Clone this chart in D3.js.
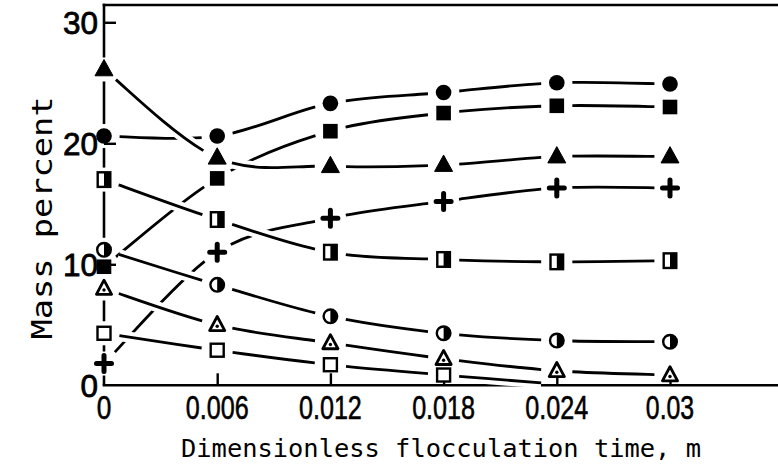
<!DOCTYPE html>
<html><head><meta charset="utf-8">
<script src="https://cdn.jsdelivr.net/npm/d3@7"></script>
<style>body{margin:0;background:#fff} svg{display:block}</style>
</head><body><svg id="c" width="778" height="471"></svg>
<script>
// ---------- data ----------
const xValues = [0, 0.006, 0.012, 0.018, 0.024, 0.03];
const xTickLabels = ["0", "0.006", "0.012", "0.018", "0.024", "0.03"];
const yTickValues = [0, 10, 20, 30];
const filledSquare   = [9.8, 17.1, 21.0, 22.5, 23.1, 23.0];
const plusSeries     = [1.8, 11.0, 13.8, 15.2, 16.3, 16.3];
const filledCircle   = [20.6, 20.6, 23.3, 24.2, 25.0, 24.9];
const filledTriangle = [26.1, 18.8, 18.1, 18.2, 18.9, 18.9];
const halfSquare     = [17.0, 13.7, 11.0, 10.4, 10.2, 10.3];
const halfCircle     = [11.2, 8.3, 5.7, 4.3, 3.7, 3.6];
const openTriangle   = [8.0, 5.0, 3.5, 2.2, 1.2, 0.85];
const openSquare     = [4.3, 2.9, 1.7, 0.85, 0.1, null];
const xTitle = "Dimensionless flocculation time, m";
const yTitle = "Mass percent";

// drawing order: lines that are broken at crossings are drawn first
const series = [
  {values: filledSquare, marker: "fsquare"},
  {values: plusSeries, marker: "plus"},
  {values: filledCircle, marker: "fcircle"},
  {values: filledTriangle, marker: "ftriangle"},
  {values: halfSquare, marker: "hsquare"},
  {values: halfCircle, marker: "hcircle"},
  {values: openTriangle, marker: "otriangle"},
  {values: openSquare, marker: "osquare"}
];

// ---------- layout ----------
const W = 778, H = 471;
const svg = d3.select("#c");
const x = d3.scaleLinear().domain([0, 0.03]).range([104, 670]);
const y = d3.scaleLinear().domain([0, 30]).range([385.3, 22.3]);
const frameTop = 5;
const ink = "#000";
const lineGap = 15.5, axisGap = 12;

// frame: top line and x-axis line
svg.append("line").attr("x1", x(0) - 1.3).attr("x2", W).attr("y1", frameTop).attr("y2", frameTop)
  .attr("stroke", ink).attr("stroke-width", 2.6);
svg.append("line").attr("x1", x(0) - 1.3).attr("x2", W).attr("y1", y(0)).attr("y2", y(0))
  .attr("stroke", ink).attr("stroke-width", 2.6);

// y-axis line, broken where markers sit on it
const axisStops = series.filter(s => s.values[0] != null).map(s => y(s.values[0])).sort((a, b) => a - b);
const axisPieces = [];
let cur = frameTop - 1.3;
axisStops.forEach(p => {
  if (p - axisGap > cur) axisPieces.push([cur, p - axisGap]);
  cur = Math.max(cur, p + axisGap);
});
if (cur < y(0)) axisPieces.push([cur, y(0)]);
svg.append("g").selectAll("line").data(axisPieces).join("line")
  .attr("x1", x(0)).attr("x2", x(0)).attr("y1", d => d[0]).attr("y2", d => d[1])
  .attr("stroke", ink).attr("stroke-width", 2.6);

// x axis ticks + labels
const xAxis = d3.axisBottom(x).tickValues(xValues.slice(1)).tickSize(-12).tickSizeOuter(0).tickFormat(() => "");
const gx = svg.append("g").attr("transform", `translate(0,${y(0)})`).call(xAxis);
gx.select(".domain").remove();
gx.selectAll(".tick line").attr("stroke", ink).attr("stroke-width", 2.4);
const digitW = 14.6, dotW = 4.5;
svg.append("g").selectAll("text").data(xValues).join("text")
  .attr("x", (d) => x(d))
  .attr("y", 419)
  .attr("text-anchor", "middle")
  .attr("font-family", "'Liberation Sans Narrow', 'Liberation Sans', Arial, sans-serif")
  .attr("font-size", 34)
  .attr("fill", ink).attr("stroke", ink).attr("stroke-width", 0.6)
  .attr("textLength", (d, i) => {
    const t = xTickLabels[i];
    const nd = t.replace(/\./g, "").length, np = t.length - nd;
    return nd * digitW + np * dotW;
  })
  .attr("lengthAdjust", "spacingAndGlyphs")
  .text((d, i) => xTickLabels[i]);

// y axis ticks + labels
const yAxis = d3.axisLeft(y).tickValues(yTickValues.filter(v => v > 0)).tickSize(-12).tickSizeOuter(0).tickFormat(() => "");
const gy = svg.append("g").attr("transform", `translate(${x(0)},0)`).call(yAxis);
gy.select(".domain").remove();
gy.selectAll(".tick line").attr("stroke", ink).attr("stroke-width", 2.4);
svg.append("g").selectAll("text").data(yTickValues).join("text")
  .attr("x", x(0) - 6)
  .attr("y", d => y(d) + 12)
  .attr("text-anchor", "end")
  .attr("font-family", "'Liberation Sans', Arial, sans-serif")
  .attr("font-size", 32)
  .attr("fill", ink).attr("stroke", ink).attr("stroke-width", 0.8)
  .attr("textLength", d => String(d).length * 17.5)
  .attr("lengthAdjust", "spacingAndGlyphs")
  .text(d => d);

// titles
svg.append("text").attr("x", 441).attr("y", 457)
  .attr("text-anchor", "middle")
  .attr("font-family", "'DejaVu Sans Mono', 'Liberation Mono', monospace")
  .attr("font-size", 25).attr("fill", ink)
  .attr("textLength", 520).attr("lengthAdjust", "spacingAndGlyphs")
  .text(xTitle);
svg.append("text").attr("transform", "translate(52,218) rotate(-90)")
  .attr("text-anchor", "middle")
  .attr("font-family", "'DejaVu Sans Mono', 'Liberation Mono', monospace")
  .attr("font-size", 29).attr("fill", ink)
  .attr("textLength", 243).attr("lengthAdjust", "spacingAndGlyphs")
  .text(yTitle);

// ---------- lines: Catmull-Rom segments, trimmed near every marker ----------
function bez(c, t) {
  const u = 1 - t;
  return [
    u*u*u*c[0][0] + 3*u*u*t*c[1][0] + 3*u*t*t*c[2][0] + t*t*t*c[3][0],
    u*u*u*c[0][1] + 3*u*u*t*c[1][1] + 3*u*t*t*c[2][1] + t*t*t*c[3][1]
  ];
}
function lerp(a, b, t) { return [a[0] + (b[0] - a[0]) * t, a[1] + (b[1] - a[1]) * t]; }
function split(c, t) {
  const p01 = lerp(c[0], c[1], t), p12 = lerp(c[1], c[2], t), p23 = lerp(c[2], c[3], t);
  const a = lerp(p01, p12, t), b = lerp(p12, p23, t), m = lerp(a, b, t);
  return [[c[0], p01, a, m], [m, b, p23, c[3]]];
}
function subCurve(c, t0, t1) {
  const right = split(c, t0)[1];
  const tt = (t1 - t0) / (1 - t0);
  return split(right, tt)[0];
}
function segmentPaths(pix) {
  const out = [];
  for (let i = 0; i < pix.length - 1; i++) {
    const p0 = pix[Math.max(0, i - 1)], p1 = pix[i], p2 = pix[i + 1], p3 = pix[Math.min(pix.length - 1, i + 2)];
    const c = [p1,
      [p1[0] + (p2[0] - p0[0]) / 6, p1[1] + (p2[1] - p0[1]) / 6],
      [p2[0] - (p3[0] - p1[0]) / 6, p2[1] - (p3[1] - p1[1]) / 6],
      p2];
    let t0 = 0, t1 = 1;
    for (let t = 0; t <= 1; t += 0.002) { const q = bez(c, t); if (Math.hypot(q[0] - p1[0], q[1] - p1[1]) >= lineGap) { t0 = t; break; } }
    for (let t = 1; t >= 0; t -= 0.002) { const q = bez(c, t); if (Math.hypot(q[0] - p2[0], q[1] - p2[1]) >= lineGap) { t1 = t; break; } }
    if (t1 <= t0) continue;
    const s = subCurve(c, t0, t1);
    out.push(`M${s[0][0].toFixed(2)},${s[0][1].toFixed(2)}C${s[1][0].toFixed(2)},${s[1][1].toFixed(2)} ${s[2][0].toFixed(2)},${s[2][1].toFixed(2)} ${s[3][0].toFixed(2)},${s[3][1].toFixed(2)}`);
  }
  return out.join("");
}

series.forEach(s => {
  const pix = xValues.map((xv, i) => [xv, s.values[i]]).filter(p => p[1] != null).map(p => [x(p[0]), y(p[1])]);
  const d = segmentPaths(pix);
  const g = svg.append("g");
  g.append("path").attr("d", d).attr("fill", "none").attr("stroke", "#fff").attr("stroke-width", 11);
  g.append("path").attr("d", d).attr("fill", "none").attr("stroke", ink).attr("stroke-width", 2.8);
});

// ---------- markers ----------
function drawMarker(g, type, cx, cy) {
  switch (type) {
    case "fcircle":
      g.append("circle").attr("cx", cx).attr("cy", cy).attr("r", 7.8).attr("fill", ink); break;
    case "fsquare":
      g.append("rect").attr("x", cx - 7.3).attr("y", cy - 7.3).attr("width", 14.6).attr("height", 14.6).attr("fill", ink); break;
    case "ftriangle":
      g.append("path").attr("d", `M${cx},${cy - 10}L${cx + 9},${cy + 6.3}L${cx - 9},${cy + 6.3}Z`).attr("fill", ink)
        .attr("stroke", ink).attr("stroke-width", 1).attr("stroke-linejoin", "round"); break;
    case "plus":
      g.append("path").attr("d", `M${cx - 7.5},${cy}H${cx + 7.5}M${cx},${cy - 8}V${cy + 8}`)
        .attr("stroke", ink).attr("stroke-width", 5).attr("stroke-linecap", "round"); break;
    case "hsquare":
      g.append("rect").attr("x", cx - 6.3).attr("y", cy - 7.3).attr("width", 12.6).attr("height", 14.6)
        .attr("fill", "#fff").attr("stroke", ink).attr("stroke-width", 2.4);
      g.append("rect").attr("x", cx).attr("y", cy - 7.3).attr("width", 6.3).attr("height", 14.6).attr("fill", ink); break;
    case "hcircle":
      g.append("circle").attr("cx", cx).attr("cy", cy).attr("r", 6.8)
        .attr("fill", "#fff").attr("stroke", ink).attr("stroke-width", 2.4);
      g.append("path").attr("d", `M${cx},${cy - 6.8}A6.8,6.8 0 0 1 ${cx},${cy + 6.8}Z`).attr("fill", ink); break;
    case "otriangle":
      g.append("path").attr("d", `M${cx},${cy - 8.3}L${cx + 7.6},${cy + 5.8}L${cx - 7.6},${cy + 5.8}Z`)
        .attr("fill", "#fff").attr("stroke", ink).attr("stroke-width", 2.8).attr("stroke-linejoin", "round");
      g.append("circle").attr("cx", cx).attr("cy", cy + 1.5).attr("r", 1.7).attr("fill", ink); break;
    case "osquare":
      g.append("rect").attr("x", cx - 6.5).attr("y", cy - 6.5).attr("width", 13).attr("height", 13)
        .attr("fill", "#fff").attr("stroke", ink).attr("stroke-width", 2.4); break;
  }
}
const gm = svg.append("g");
series.forEach(s => {
  xValues.forEach((xv, i) => {
    const v = s.values[i];
    if (v == null || v < 0.3) return;
    drawMarker(gm, s.marker, x(xv), y(v));
  });
});
</script></body></html>
